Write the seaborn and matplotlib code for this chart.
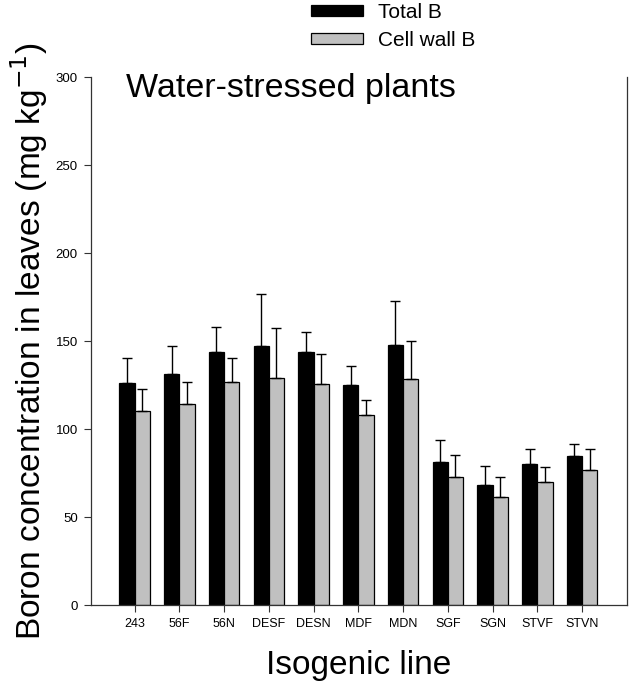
import numpy as np
import pandas as pd
import matplotlib
matplotlib.use("Agg")
import matplotlib.pyplot as plt
import seaborn as sns

lines = ["243", "56F", "56N", "DESF", "DESN", "MDF", "MDN", "SGF", "SGN", "STVF", "STVN"]
total_b = [126, 131, 144, 147, 143.5, 125, 147.5, 81.5, 68, 80, 84.5]
total_b_err = [14.5, 16, 14, 29.5, 11.5, 11, 25.5, 12, 11, 8.5, 7]
cellwall_b = [110, 114.5, 126.5, 129, 125.5, 108, 128.5, 72.5, 61.5, 70, 76.5]
cellwall_b_err = [13, 12.5, 14, 28.5, 17, 8.5, 21.5, 12.5, 11, 8.5, 12]

series = ["Total B", "Cell wall B"]

df = pd.DataFrame({
    "line": lines * 2,
    "kind": [series[0]] * len(lines) + [series[1]] * len(lines),
    "value": total_b + cellwall_b,
    "err": total_b_err + cellwall_b_err,
})

sns.set_style("white")
plt.rcParams["font.family"] = ["Liberation Sans", "DejaVu Sans"]
plt.rcParams["text.color"] = "black"
plt.rcParams["axes.labelcolor"] = "black"
plt.rcParams["xtick.color"] = "black"
plt.rcParams["ytick.color"] = "black"

fig = plt.figure(figsize=(6.3, 6.82), dpi=100)
ax = fig.add_axes([0.1444, 0.1129, 0.8506, 0.7741])

sns.barplot(data=df, x="line", y="value", hue="kind", order=lines, hue_order=series,
            palette={"Total B": "black", "Cell wall B": "#c0c0c0"},
            width=0.68, errorbar=None, edgecolor="black", linewidth=0.9,
            saturation=1, legend=False, ax=ax)

# upward-only error bars, matched to each bar patch
for cont, name in zip(ax.containers, series):
    sub = df[df["kind"] == name].set_index("line").loc[lines]
    xs = [p.get_x() + p.get_width() / 2 for p in cont.patches]
    ax.errorbar(xs, sub["value"], yerr=[np.zeros(len(xs)), sub["err"]],
                fmt="none", ecolor="black", elinewidth=1, capsize=3.5, capthick=1)

ax.set_ylim(0, 300)
ax.set_xlim(-0.975, 11.0)
ax.set_yticks(range(0, 301, 50))
ax.tick_params(axis="y", labelsize=9.5, direction="out", length=5, width=0.8,
               left=True, pad=4.5, color="#333333")
ax.tick_params(axis="x", labelsize=9, direction="out", length=5, width=0.8,
               bottom=True, pad=4.5, color="#333333")

for s in ["left", "bottom", "right"]:
    ax.spines[s].set_visible(True)
    ax.spines[s].set_color("#333333")
    ax.spines[s].set_linewidth(0.9)
ax.spines["top"].set_visible(False)

ax.set_ylabel("Boron concentration in leaves (mg kg$^{-1}$)", fontsize=24, labelpad=4)
ax.set_xlabel("Isogenic line", fontsize=24, labelpad=14)
ax.text(0.065, 1.007, "Water-stressed plants", transform=ax.transAxes,
        fontsize=24.5, va="top", ha="left")

handles = [plt.Rectangle((0, 0), 1, 1, facecolor="black", edgecolor="black", linewidth=0.9),
           plt.Rectangle((0, 0), 1, 1, facecolor="#c0c0c0", edgecolor="black", linewidth=0.9)]
fig.legend(handles, series, loc="upper left", bbox_to_anchor=(311 / 630, 1 - 3 / 682),
           frameon=False, fontsize=15, handlelength=2.5, handleheight=0.45,
           labelspacing=0.42, handletextpad=0.7, borderpad=0, borderaxespad=0)

fig.savefig("out.png", dpi=100)
